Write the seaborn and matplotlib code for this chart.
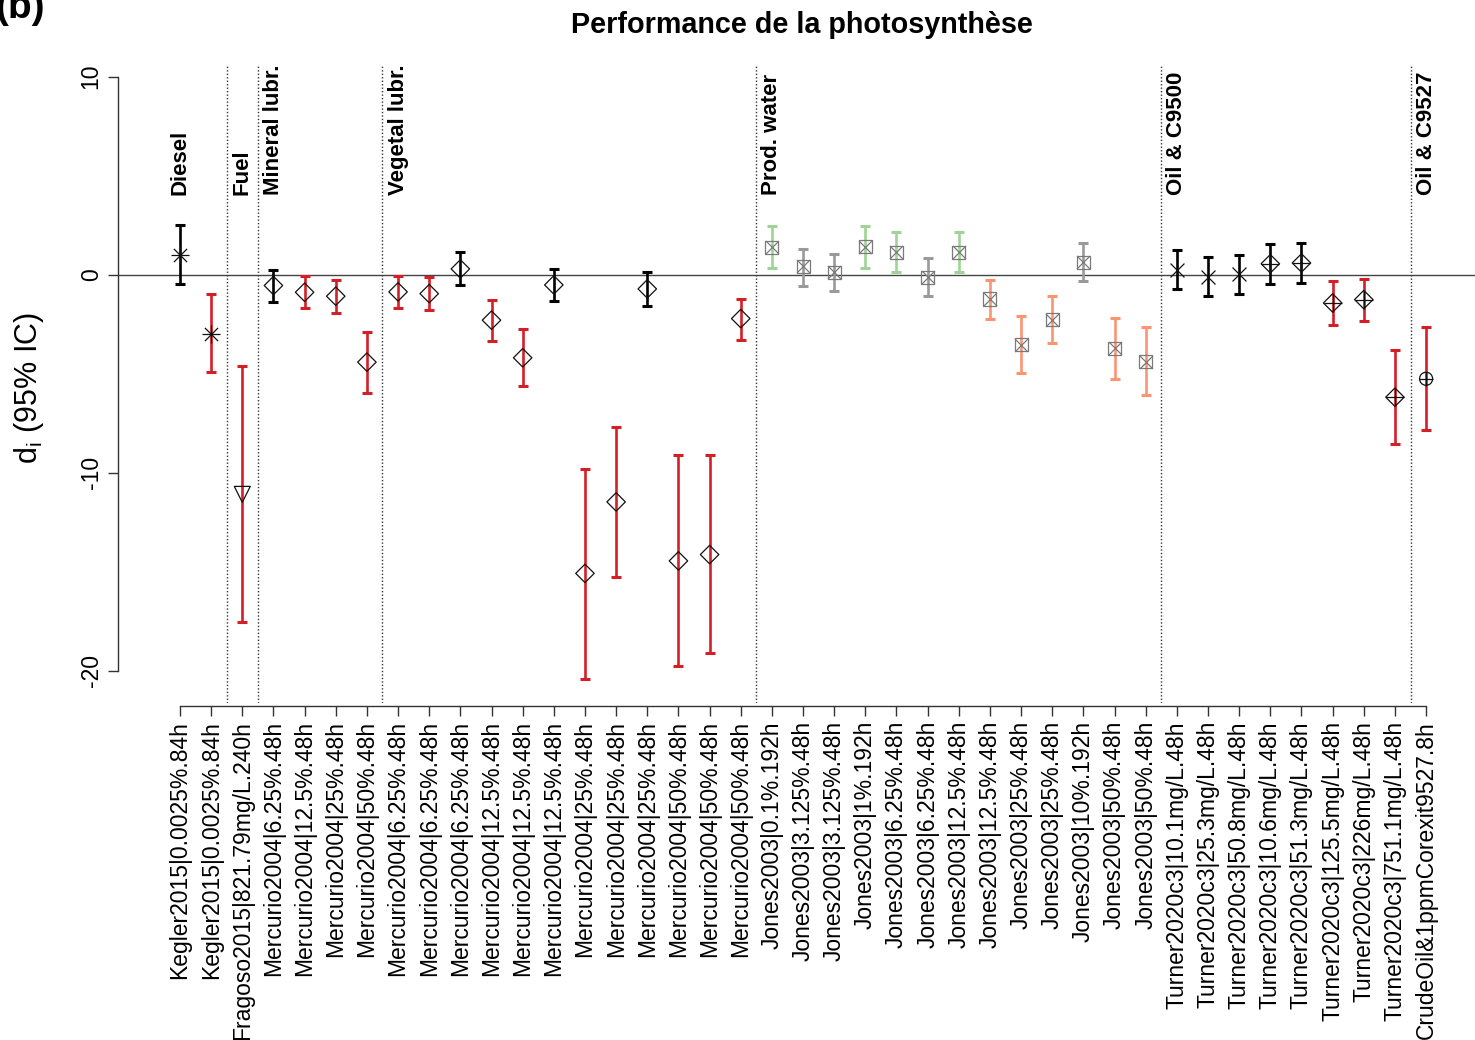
import matplotlib
matplotlib.use("Agg")
import matplotlib.pyplot as plt
import pandas as pd
import seaborn as sns

# study | dose . duration labels
labels = [
    "Kegler2015|0.0025%.84h", "Kegler2015|0.0025%.84h", "Fragoso2015|821.79mg/L.240h",
    "Mercurio2004|6.25%.48h", "Mercurio2004|12.5%.48h", "Mercurio2004|25%.48h", "Mercurio2004|50%.48h",
    "Mercurio2004|6.25%.48h", "Mercurio2004|6.25%.48h", "Mercurio2004|6.25%.48h",
    "Mercurio2004|12.5%.48h", "Mercurio2004|12.5%.48h", "Mercurio2004|12.5%.48h",
    "Mercurio2004|25%.48h", "Mercurio2004|25%.48h", "Mercurio2004|25%.48h",
    "Mercurio2004|50%.48h", "Mercurio2004|50%.48h", "Mercurio2004|50%.48h",
    "Jones2003|0.1%.192h", "Jones2003|3.125%.48h", "Jones2003|3.125%.48h", "Jones2003|1%.192h",
    "Jones2003|6.25%.48h", "Jones2003|6.25%.48h", "Jones2003|12.5%.48h", "Jones2003|12.5%.48h",
    "Jones2003|25%.48h", "Jones2003|25%.48h", "Jones2003|10%.192h", "Jones2003|50%.48h", "Jones2003|50%.48h",
    "Turner2020c3|10.1mg/L.48h", "Turner2020c3|25.3mg/L.48h", "Turner2020c3|50.8mg/L.48h",
    "Turner2020c3|10.6mg/L.48h", "Turner2020c3|51.3mg/L.48h", "Turner2020c3|125.5mg/L.48h",
    "Turner2020c3|226mg/L.48h", "Turner2020c3|751.1mg/L.48h", "CrudeOil&1ppmCorexit9527.8h",
]
di = [1.0, -2.98, -11.1, -0.55, -0.89, -1.09, -4.42, -0.87, -0.96, 0.29, -2.3, -4.2, -0.52,
      -15.09, -11.48, -0.72, -14.46, -14.14, -2.22,
      1.38, 0.42, 0.13, 1.4, 1.14, -0.14, 1.14, -1.23, -3.53, -2.27, 0.62, -3.73, -4.4,
      0.25, -0.12, 0.05, 0.55, 0.59, -1.43, -1.26, -6.19, -5.26]
ci_low = [-0.47, -4.91, -17.56, -1.4, -1.7, -1.93, -5.97, -1.7, -1.8, -0.52, -3.36, -5.6, -1.34,
          -20.42, -15.25, -1.6, -19.75, -19.11, -3.28,
          0.32, -0.59, -0.84, 0.35, 0.12, -1.06, 0.12, -2.23, -4.99, -3.45, -0.34, -5.26, -6.1,
          -0.72, -1.09, -0.97, -0.47, -0.42, -2.52, -2.34, -8.54, -7.87]
ci_high = [2.52, -0.96, -4.62, 0.25, -0.08, -0.25, -2.91, -0.08, -0.12, 1.14, -1.29, -2.77, 0.3,
           -9.8, -7.7, 0.13, -9.13, -9.13, -1.21,
           2.44, 1.31, 1.06, 2.44, 2.14, 0.82, 2.14, -0.25, -2.07, -1.09, 1.6, -2.19, -2.66,
           1.26, 0.87, 1.01, 1.55, 1.6, -0.32, -0.2, -3.83, -2.64]
effect = ["ns", "neg", "neg", "ns", "neg", "neg", "neg", "neg", "neg", "ns", "neg", "neg", "ns",
          "neg", "neg", "ns", "neg", "neg", "neg",
          "pos_l", "ns_l", "ns_l", "pos_l", "pos_l", "ns_l", "pos_l", "neg_l", "neg_l", "neg_l",
          "ns_l", "neg_l", "neg_l",
          "ns", "ns", "ns", "ns", "ns", "neg", "neg", "neg", "neg"]
symbol = ["star", "star", "tri", "dia", "dia", "dia", "dia", "dia", "dia", "dia", "dia", "dia", "dia",
          "dia", "dia", "dia", "dia", "dia", "dia",
          "sqx", "sqx", "sqx", "sqx", "sqx", "sqx", "sqx", "sqx", "sqx", "sqx", "sqx", "sqx", "sqx",
          "x", "x", "x", "dplus", "dplus", "dplus", "dplus", "dplus", "cplus"]

groups = ["Diesel", "Fuel", "Mineral lubr.", "Vegetal lubr.", "Prod. water", "Oil & C9500", "Oil & C9527"]
group_start = [0, 2, 3, 7, 19, 32, 40]

palette = {"ns": "#000000", "neg": "#D41F26", "pos_l": "#9ED494", "ns_l": "#9A9A9A", "neg_l": "#FC9474"}
# (marker, size in pt, outline marker?)
marker_parts = {
    "star": [("+", 13.5, False), ("x", 9.5, False)],
    "tri": [("v", 11.5, True)],
    "dia": [("D", 9.4, True)],
    "sqx": [("s", 9.4, True), ("x", 9.4, False)],
    "x": [("x", 10, False)],
    "dplus": [("D", 9.4, True), ("+", 13.3, False)],
    "cplus": [("o", 9.4, True), ("+", 9.4, False)],
}

df = pd.DataFrame({"label": labels, "di": di, "low": ci_low, "high": ci_high,
                   "effect": effect, "symbol": symbol})
df["pos"] = range(len(df))

sns.set_theme(style="ticks")
plt.rcParams["font.family"] = ["Liberation Sans", "DejaVu Sans"]
plt.rcParams["mathtext.fontset"] = "custom"
plt.rcParams["mathtext.rm"] = "Liberation Sans"
plt.rcParams["mathtext.it"] = "Liberation Sans"
for k in ["text.color", "axes.labelcolor", "xtick.color", "ytick.color"]:
    plt.rcParams[k] = "black"

fig = plt.figure(figsize=(14.75, 10.4), dpi=100)
ax = fig.add_axes([0.08, 0.324, 0.92, 0.6255])
ymin, ymax = -21.64, 11.22

ax.axhline(0, color="#444444", lw=1, zorder=1)
ax.vlines([1.5, 2.5, 6.5, 18.5, 31.5, 39.5], ymin, 10.6, colors="#333333",
          linestyles=(0, (1, 1.5)), lw=1, zorder=1)

for _, r in df.iterrows():
    ax.errorbar(r["pos"], r["di"], yerr=[[r["di"] - r["low"]], [r["high"] - r["di"]]],
                fmt="none", ecolor=palette[r["effect"]], elinewidth=1.9,
                capsize=3.3, capthick=2.2, zorder=2)

for sym, sub in df.groupby("symbol"):
    ec = "#7a7a7a" if sym == "sqx" else "#111111"
    for m, ms, filled in marker_parts[sym]:
        if filled:
            sns.scatterplot(x=sub["pos"], y=sub["di"], marker=m, s=ms ** 2, facecolor="none",
                            edgecolor=ec, color=ec, linewidth=0.9, ax=ax, zorder=3, legend=False)
        else:
            sns.scatterplot(x=sub["pos"], y=sub["di"], marker=m, s=ms ** 2, color=ec,
                            linewidth=0.9, ax=ax, zorder=3, legend=False)

for g, p in zip(groups, group_start):
    ax.text(p, 4.0, g, rotation=90, ha="center", va="bottom", fontsize=16, fontweight="bold")

ax.set_xlim(-1.99, 41.57)
ax.set_ylim(ymin, ymax)
ax.tick_params(axis="y", labelrotation=90, labelsize=16.5, length=7, width=1, pad=4, color="#333333")
ax.tick_params(axis="x", labelrotation=90, labelsize=16.5, length=7, width=1, pad=4, color="#333333")
ax.set_xticks(df["pos"])
ax.set_xticklabels(df["label"])
ax.set_yticks([-20, -10, 0, 10])
ax.set_yticklabels(["-20", "-10", "0", "10"])
for t in ax.get_yticklabels():
    t.set_va("center")
ax.set_xlabel("")
ax.set_ylabel(r"$\mathregular{d_i}$ (95% IC)", fontsize=22)
ax.yaxis.set_label_coords(-0.053, 0.484)

sns.despine(ax=ax, top=True, right=True)
ax.spines["left"].set_bounds(-20, 10)
ax.spines["bottom"].set_bounds(0, 40)
ax.spines["bottom"].set_position(("outward", 2))
for s in ["left", "bottom"]:
    ax.spines[s].set_color("#333333")
    ax.spines[s].set_linewidth(1)

fig.text(0.5437, 0.976, "Performance de la photosynthèse", ha="center", va="center",
         fontsize=20.7, fontweight="bold")
fig.text(-0.003, 0.975, "(b)", ha="left", va="bottom", fontsize=28, fontweight="bold")

fig.savefig("out.png", dpi=100)
